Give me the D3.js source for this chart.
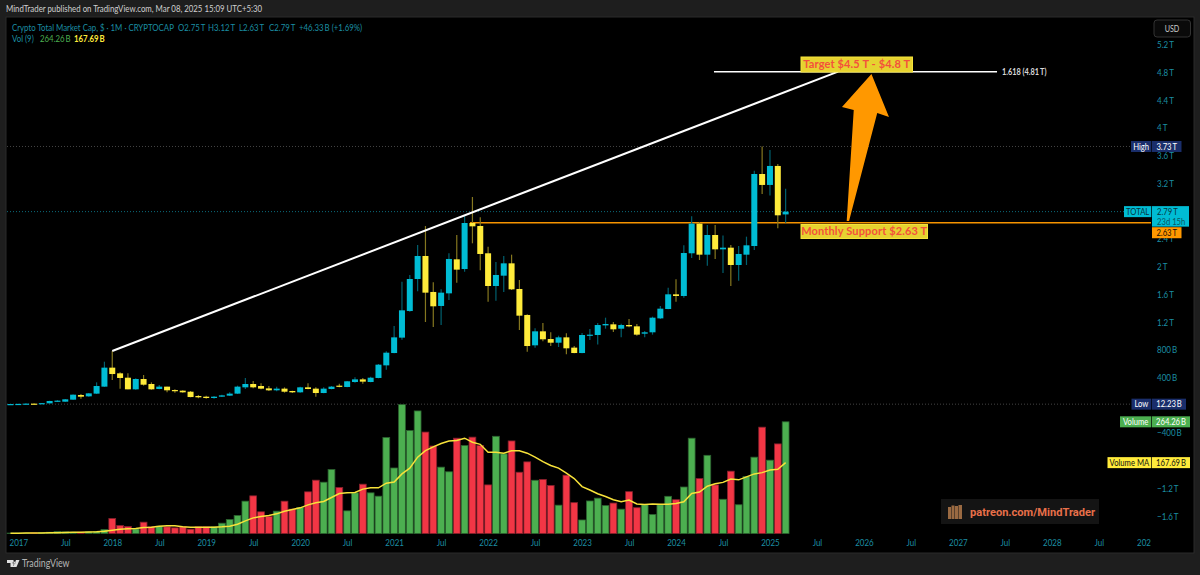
<!DOCTYPE html>
<html>
<head>
<meta charset="utf-8">
<style>
  html, body { margin: 0; padding: 0; background: #1e1e1e; }
  svg { display: block; }
  text { font-family: Lato, sans-serif; }
  .axis text { fill: #1b8ea3; font-size: 10px; font-family: Lato, sans-serif; }
  .axis path, .axis line { display: none; }
</style>
<script src="https://cdn.jsdelivr.net/npm/d3@7"></script>
</head>
<body>
<svg id="chart" width="1200" height="575"></svg>
<script>
// monthly bars, Dec 2016 .. Mar 2025, values in billions of USD
var opens = [13, 14, 16, 20, 19, 24, 48, 48, 77, 144, 125, 164, 265, 539, 457, 394, 226, 375, 303, 231, 265, 216, 207, 192, 130, 120, 101, 120, 135, 164, 255, 303, 274, 240, 212, 236, 202, 183, 255, 236, 173, 231, 279, 260, 332, 370, 332, 390, 572, 750, 972, 1356, 1818, 2150, 1631, 1429, 1611, 2102, 1962, 2626, 2583, 2189, 1717, 1866, 2044, 1674, 1299, 861, 1063, 952, 899, 976, 828, 750, 1000, 1010, 1149, 1164, 1101, 1154, 1135, 1029, 1049, 1250, 1385, 1597, 1573, 2189, 2617, 2169, 2453, 2246, 2270, 2020, 2169, 2294, 3333, 3175, 3449, 2750];
var highs = [15, 17, 21, 27, 29, 62, 70, 87, 152, 159, 175, 327, 625, 779, 471, 457, 385, 433, 327, 289, 265, 226, 212, 202, 144, 135, 130, 149, 183, 279, 390, 346, 313, 274, 265, 255, 207, 265, 313, 255, 255, 274, 308, 346, 399, 390, 409, 592, 774, 1140, 1780, 1876, 2309, 2583, 1770, 1669, 2189, 2453, 2727, 3001, 2708, 2285, 2063, 2150, 2169, 1804, 1308, 1106, 1183, 1049, 1000, 1034, 851, 1039, 1097, 1183, 1260, 1198, 1174, 1241, 1169, 1068, 1275, 1428, 1693, 1813, 2304, 2722, 2641, 2597, 2597, 2444, 2309, 2294, 2429, 3381, 3730, 3680, 3478, 3120];
var lows = [12.23, 12.5, 15, 17, 19, 22, 44, 46, 75, 91, 120, 160, 262, 360, 236, 226, 221, 279, 221, 226, 183, 178, 178, 111, 96, 91, 91, 115, 130, 159, 231, 240, 226, 202, 197, 178, 173, 178, 226, 120, 168, 226, 255, 255, 322, 308, 327, 385, 510, 745, 943, 1347, 1640, 1198, 1126, 1154, 1515, 1765, 1924, 2333, 1943, 1491, 1506, 1631, 1659, 1082, 770, 827, 919, 851, 837, 731, 745, 745, 938, 872, 1101, 1053, 977, 1121, 1000, 977, 1015, 1241, 1380, 1491, 1549, 2121, 2092, 2010, 2107, 1905, 1717, 1794, 2020, 2237, 3045, 3021, 2549, 2630];
var closes = [14, 16, 20, 19, 27, 58, 63, 82, 149, 120, 168, 274, 539, 447, 390, 226, 375, 293, 226, 265, 212, 202, 183, 115, 111, 101, 120, 139, 164, 265, 303, 255, 236, 212, 236, 192, 183, 255, 231, 173, 236, 265, 265, 342, 370, 337, 394, 582, 755, 976, 1366, 1818, 2150, 1621, 1424, 1621, 2107, 1953, 2626, 2578, 2179, 1717, 1876, 2044, 1669, 1289, 851, 1063, 948, 899, 976, 818, 750, 1010, 1015, 1154, 1169, 1092, 1154, 1135, 1015, 1049, 1260, 1390, 1597, 1573, 2193, 2617, 2169, 2453, 2246, 2270, 2020, 2179, 2304, 3333, 3175, 3449, 2737, 2790];
var volumes = [1, 1, 1.2, 1.5, 2, 3, 4.7, 3.9, 3.2, 3.2, 3.9, 4.7, 9.5, 35.5, 18.9, 16.6, 11, 26.8, 15.8, 17.3, 15.8, 13.4, 15.8, 10.3, 15.8, 15.8, 15.8, 24.4, 33.1, 42.6, 76.5, 89.1, 51.3, 40.2, 52.8, 76.5, 57.6, 61.5, 98.6, 126.2, 121.4, 151.4, 108.8, 53.6, 96.2, 116.7, 96.2, 88.3, 227, 155, 305, 243.7, 290, 240, 207, 157, 146, 225.5, 208, 228, 208, 115, 230, 188.5, 219, 145, 169.5, 126, 128, 113.6, 67, 138, 73, 32, 77, 83.6, 66, 72, 57.6, 99, 61, 68, 45, 68, 88, 80, 110, 225.5, 130, 185, 115, 81, 147.5, 68, 135, 180.6, 251.6, 173.5, 212, 264.26];
var volumeMA = [0.8, 0.8, 0.9, 1, 1.2, 1.5, 2, 2.5, 3, 3, 3.5, 3.9, 5.5, 7.9, 10.3, 11, 11.8, 14.2, 15, 17.3, 18.1, 18.1, 15.8, 15, 15, 15, 15, 15.8, 17.3, 22, 30, 37, 40, 42.6, 46.5, 52.8, 56.8, 60.7, 67.8, 72.6, 75.7, 85.2, 94.6, 96.2, 97, 105, 108, 108, 119, 122, 141, 154.6, 180.6, 196, 205, 213, 219, 220, 225.5, 216, 211, 192, 192, 190, 196, 196, 190, 180.6, 170, 161, 154.6, 143, 130, 111, 103, 94, 87.5, 80, 75, 79, 70, 68.6, 70, 69, 69, 71, 75, 94.6, 98, 112, 117.5, 121, 129, 127, 134, 141, 144, 150, 152, 167.69];

// axes
var priceTicks = [5200, 4800, 4400, 4000, 3600, 3200, 2400, 2000, 1600, 1200, 800, 400, -400, -1200, -1600];
var timeTicks = [1, 7, 13, 19, 25, 31, 37, 43, 49, 55, 61, 67, 73, 79, 85, 91, 97, 103, 109, 115, 121, 127, 133, 139, 145];
var timeLabels = ["2017", "Jul", "2018", "Jul", "2019", "Jul", "2020", "Jul", "2021", "Jul", "2022", "Jul", "2023", "Jul", "2024", "Jul", "2025", "Jul", "2026", "Jul", "2027", "Jul", "2028", "Jul", "2029"];

// drawings: [bar, price]
var trendLine = [[13, 779], [105.7, 4810]];
var fibLine = [[89.85, 4810], [126, 4810]];
var supportStart = 58.7;
var supportPrice = 2630, highPrice = 3730, lastPrice = 2790, lowPrice = 12.23;
var arrowShape = [[109.96, 4776], [112.2, 4156], [110.7, 4214], [107.1, 2655], [106.8, 2655], [107.7, 4257], [106.2, 4300]];

var CYAN = "#00bcd4", YELLOW = "#ffeb3b", CYAN_WICK = "#00606f", YELLOW_WICK = "#85771f";
var GREEN = "#4caf50", RED = "#f23645", TEAL = "#1b8ea3", NAVY = "#1a2e6b";
var plotRight = 1151;

var svg = d3.select("#chart");
var bars = d3.range(opens.length);

var x = d3.scaleLinear().domain([0, 145]).range([10.47, 1145.8]);
var y = d3.scaleLinear().domain([-1600, 5200]).range([515.9, 44.6]);
var yVol = d3.scaleLinear().domain([0, 305]).range([533.5, 404.6]);

function fmtPrice(v) {
  var a = Math.abs(v), s = a >= 1000 ? (a / 1000) + "\u2009T" : a + "\u2009B";
  return (v < 0 ? "\u2212" : "") + s;
}

// black panel
svg.append("rect").attr("x", 6).attr("y", 17).attr("width", 1188).attr("height", 536)
  .attr("fill", "#000").attr("stroke", "#2b2b2b");

// header + footer
svg.append("text").attr("x", 6).attr("y", 12).attr("fill", "#d0d0d0").attr("font-size", 9.8)
  .text("MindTrader published on TradingView.com, Mar 08, 2025 15:09 UTC+5:30");
svg.append("path").attr("fill", "#e0e0e0")
  .attr("d", "M7 560h6.5v7h-3v-4H7z M14 561.5a1.4 1.4 0 1 0 .01 0z M16 560h3.5l-3 7h-3.2z");
svg.append("text").attr("x", 22).attr("y", 567).attr("fill", "#b5b5b5").attr("font-size", 11).text("TradingView");

// legend
var legendTop = [
  [12, "Crypto Total Market Cap, $ \u00b7 1M \u00b7 CRYPTOCAP"], [178, "O2.75\u2009T"], [208, "H3.12\u2009T"],
  [239, "L2.63\u2009T"], [269, "C2.79\u2009T"], [299, "+46.33\u2009B (+1.69%)"]
];
svg.selectAll(".leg").data(legendTop).enter().append("text").attr("class", "leg")
  .attr("x", function(d) { return d[0]; }).attr("y", 31).attr("fill", TEAL).attr("font-size", 9.8)
  .text(function(d) { return d[1]; });
svg.append("text").attr("x", 12).attr("y", 42).attr("fill", TEAL).attr("font-size", 9.8).text("Vol (9)");
svg.append("text").attr("x", 40).attr("y", 42).attr("fill", GREEN).attr("font-size", 9.8).text("264.26\u2009B");
svg.append("text").attr("x", 74).attr("y", 42).attr("fill", YELLOW).attr("font-size", 9.8).attr("font-weight", 700).text("167.69\u2009B");

// dotted price lines
function dotted(v, colour) {
  svg.append("line").attr("x1", 7).attr("x2", plotRight).attr("y1", y(v)).attr("y2", y(v))
    .attr("stroke", colour).attr("stroke-dasharray", "1,2");
}
dotted(highPrice, "#444");
dotted(lastPrice, "#0b6c7c");
dotted(lowPrice, "#444");

// support line
svg.append("line").attr("x1", x(supportStart)).attr("x2", plotRight).attr("y1", y(supportPrice)).attr("y2", y(supportPrice))
  .attr("stroke", "#f59300").attr("stroke-width", 1.5);

// wicks
svg.selectAll(".wick").data(bars).enter().append("line").attr("class", "wick")
  .attr("x1", function(i) { return x(i); }).attr("x2", function(i) { return x(i); })
  .attr("y1", function(i) { return y(highs[i]); }).attr("y2", function(i) { return y(lows[i]); })
  .attr("stroke", function(i) { return closes[i] >= opens[i] ? CYAN_WICK : YELLOW_WICK; })
  .attr("stroke-width", 1.2);

// bodies
svg.selectAll(".body").data(bars).enter().append("rect").attr("class", "body")
  .attr("x", function(i) { return x(i) - 3; }).attr("width", 6)
  .attr("y", function(i) { return y(Math.max(opens[i], closes[i])); })
  .attr("height", function(i) { return Math.max(1.2, Math.abs(y(opens[i]) - y(closes[i]))); })
  .attr("fill", function(i) { return closes[i] >= opens[i] ? CYAN : YELLOW; });

// volume
svg.selectAll(".vol").data(bars).enter().append("rect").attr("class", "vol")
  .attr("x", function(i) { return x(i) - 3.4; }).attr("width", 6.8)
  .attr("y", function(i) { return yVol(volumes[i]); })
  .attr("height", function(i) { return yVol(0) - yVol(volumes[i]); })
  .attr("fill", function(i) { return closes[i] >= opens[i] ? GREEN : RED; })
  .attr("stroke", function(i) { return closes[i] >= opens[i] ? "#2c6330" : "#84202c"; })
  .attr("stroke-width", 0.8);

svg.append("path").datum(bars).attr("fill", "none").attr("stroke", "#f7e23a").attr("stroke-width", 1.5)
  .attr("d", d3.line().x(function(i) { return x(i); }).y(function(i) { return yVol(volumeMA[i]); }));

// drawings
var pt = d3.line().x(function(d) { return x(d[0]); }).y(function(d) { return y(d[1]); });
svg.append("path").attr("d", pt(fibLine)).attr("stroke", "#fff").attr("stroke-width", 1.5);
svg.append("path").attr("d", pt(trendLine)).attr("stroke", "#fff").attr("stroke-width", 2);
svg.append("path").attr("d", pt(arrowShape) + "Z").attr("fill", "#ff9800");
svg.append("text").attr("x", 1002).attr("y", y(4810) + 3).attr("fill", "#d8d8d8").attr("font-size", 9.2).attr("font-weight", 700)
  .text("1.618 (4.81\u2009T)");

function noteBox(left, right, top, bottom, label) {
  svg.append("rect").attr("x", left).attr("y", top).attr("width", right - left).attr("height", bottom - top)
    .attr("fill", "#e6d230").attr("stroke", "#f5e33a");
  svg.append("text").attr("class", "keep").attr("x", (left + right) / 2).attr("y", (top + bottom) / 2 + 3.8).attr("text-anchor", "middle")
    .attr("fill", "#f4503c").attr("font-size", 11).attr("font-weight", 700)
    .attr("letter-spacing", 0.15).text(label);
}
noteBox(801, 912.5, 57, 72, "Target $4.5 T - $4.8 T");
noteBox(801, 927.5, 224.5, 238.5, "Monthly Support $2.63 T");

// price axis
svg.append("g").attr("class", "axis").attr("transform", "translate(1157,0)")
  .call(d3.axisRight(y).tickValues(priceTicks).tickFormat(fmtPrice).tickSize(0).tickPadding(0));

// time axis, last label runs off the pane
svg.append("clipPath").attr("id", "timeClip").append("rect").attr("x", 7).attr("y", -5).attr("width", plotRight - 7).attr("height", 16);
svg.append("g").attr("class", "axis").attr("clip-path", "url(#timeClip)").attr("transform", "translate(0,539)")
  .call(d3.axisBottom(x).tickValues(timeTicks)
    .tickFormat(function(d, i) { return timeLabels[i]; }).tickSize(0).tickPadding(0));

// USD button
svg.append("rect").attr("x", 1154).attr("y", 20).attr("width", 36.5).attr("height", 17).attr("rx", 3)
  .attr("fill", "#0a0a0a").attr("stroke", "#333");
svg.append("text").attr("x", 1172).attr("y", 32).attr("text-anchor", "middle").attr("fill", "#c8c8c8").attr("font-size", 9).text("USD");

// price tags
function tag(left, right, cy, h, fill, colour, label) {
  svg.append("rect").attr("x", left).attr("y", cy - h / 2).attr("width", right - left).attr("height", h).attr("fill", fill);
  svg.append("text").attr("x", (left + right) / 2).attr("y", cy + 3.3).attr("text-anchor", "middle")
    .attr("fill", colour).attr("font-size", 9.6).text(label);
}
tag(1131, 1151.3, y(highPrice), 11, NAVY, "#fff", "High");
tag(1152, 1181.5, y(highPrice), 11, NAVY, "#fff", "3.73\u2009T");
tag(1124, 1151.3, y(lastPrice), 11, CYAN, "#06343c", "TOTAL");
svg.append("rect").attr("x", 1152).attr("y", y(lastPrice) - 5.5).attr("width", 37).attr("height", 20.5).attr("fill", CYAN);
svg.append("text").attr("x", 1157).attr("y", y(lastPrice) + 3.3).attr("fill", "#06343c").attr("font-size", 9.6).text("2.79\u2009T");
svg.append("text").attr("x", 1157).attr("y", y(lastPrice) + 13).attr("fill", "#0a5562").attr("font-size", 9.6).text("23d 15h");
tag(1152, 1181.5, y(supportPrice) + 10, 11, "#ff9800", "#1a1000", "2.63\u2009T");
tag(1131.5, 1151.3, y(lowPrice), 11, NAVY, "#fff", "Low");
tag(1152, 1186, y(lowPrice), 11, NAVY, "#fff", "12.23\u2009B");
tag(1120, 1151.3, yVol(volumes[99]), 11, GREEN, "#fff", "Volume");
tag(1152, 1190, yVol(volumes[99]), 11, GREEN, "#fff", "264.26\u2009B");
tag(1107.5, 1151.3, yVol(volumeMA[99]), 11, YELLOW, "#111", "Volume MA");
tag(1152, 1190, yVol(volumeMA[99]), 11, YELLOW, "#111", "167.69\u2009B");

// watermark
svg.append("rect").attr("x", 941).attr("y", 499).attr("width", 158).attr("height", 25).attr("fill", "#141414");
svg.selectAll(".logoBar").data([[948, 507, 3], [951.5, 505.5, 3], [955, 506, 3], [958.5, 505, 3.5]]).enter().append("rect")
  .attr("x", function(d) { return d[0]; }).attr("y", function(d) { return d[1]; })
  .attr("width", function(d) { return d[2]; }).attr("height", function(d) { return 519 - d[1]; })
  .attr("fill", "#9a6a42");
svg.append("text").attr("class", "keep").attr("x", 970).attr("y", 515.5).attr("fill", "#e8704a").attr("font-size", 11.1).attr("font-weight", 700)
  .style("font-family", "Roboto, sans-serif").text("patreon.com/MindTrader");

// the installed fonts run wide, squeeze the small text to the reference width
svg.selectAll("text:not(.keep)").each(function() {
  this.setAttribute("textLength", this.getComputedTextLength() * 0.8);
  this.setAttribute("lengthAdjust", "spacingAndGlyphs");
});
</script>
</body>
</html>
